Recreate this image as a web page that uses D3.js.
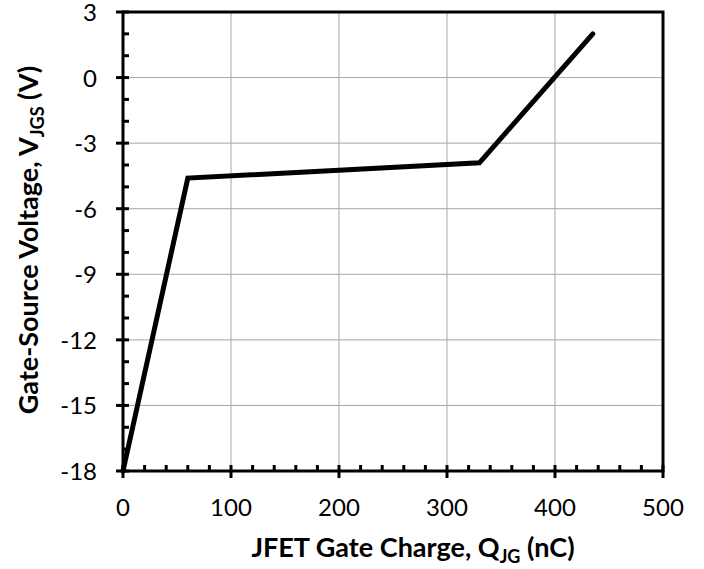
<!DOCTYPE html>
<html>
<head>
<meta charset="utf-8">
<script src="https://cdn.jsdelivr.net/npm/d3@7"></script>
<style>
  body { margin: 0; background: #fff; }
  text { font-family: Lato, "Open Sans", sans-serif; fill: #000; }
</style>
</head>
<body>
<svg id="chart" width="704" height="569"></svg>
<script>
// gate charge curve (nC, V)
let chargeNC = [0, 60, 330, 435];
let voltageV = [-18, -4.6, -3.9, 2];
let xTicks = [0, 100, 200, 300, 400, 500];
let yTicks = [3, 0, -3, -6, -9, -12, -15, -18];

function drawGateChargeChart(svgId) {
  let svg = d3.select(svgId);

  let left = 123, right = 663, top = 12, bottom = 471;

  let x = d3.scaleLinear().domain([0, 500]).range([left, right]);
  let y = d3.scaleLinear().domain([-18, 3]).range([bottom, top]);

  // grid lines
  svg.append("g")
    .selectAll("line")
    .data(xTicks)
    .enter()
    .append("line")
    .attr("x1", d => x(d)).attr("x2", d => x(d))
    .attr("y1", top).attr("y2", bottom)
    .style("stroke", "#a6a6a6")
    .style("stroke-width", 1);
  svg.append("g")
    .selectAll("line")
    .data(yTicks)
    .enter()
    .append("line")
    .attr("x1", left).attr("x2", right)
    .attr("y1", d => y(d)).attr("y2", d => y(d))
    .style("stroke", "#a6a6a6")
    .style("stroke-width", 1);

  // minor ticks (inside)
  svg.append("g")
    .selectAll("line")
    .data(d3.range(0, 501, 20).filter(d => d % 100 != 0))
    .enter()
    .append("line")
    .attr("x1", d => x(d)).attr("x2", d => x(d))
    .attr("y1", bottom).attr("y2", bottom - 6)
    .style("stroke", "#000")
    .style("stroke-width", 3);
  svg.append("g")
    .selectAll("line")
    .data(d3.range(-18, 4, 1).filter(d => d % 3 != 0))
    .enter()
    .append("line")
    .attr("x1", left).attr("x2", left + 6)
    .attr("y1", d => y(d)).attr("y2", d => y(d))
    .style("stroke", "#000")
    .style("stroke-width", 3);

  // major ticks (cross)
  svg.append("g")
    .selectAll("line")
    .data(xTicks)
    .enter()
    .append("line")
    .attr("x1", d => x(d)).attr("x2", d => x(d))
    .attr("y1", bottom - 6).attr("y2", bottom + 7)
    .style("stroke", "#000")
    .style("stroke-width", 3);
  svg.append("g")
    .selectAll("line")
    .data(yTicks)
    .enter()
    .append("line")
    .attr("x1", left - 7).attr("x2", left + 6)
    .attr("y1", d => y(d)).attr("y2", d => y(d))
    .style("stroke", "#000")
    .style("stroke-width", 3);

  // frame
  svg.append("rect")
    .attr("x", left).attr("y", top)
    .attr("width", right - left).attr("height", bottom - top)
    .style("fill", "none")
    .style("stroke", "#000")
    .style("stroke-width", 3);

  // tick labels
  svg.append("g")
    .selectAll("text")
    .data(xTicks)
    .enter()
    .append("text")
    .attr("x", d => x(d))
    .attr("y", bottom + 45)
    .text(d => d)
    .style("text-anchor", "middle")
    .style("font-size", "24px");
  svg.append("g")
    .selectAll("text")
    .data(yTicks)
    .enter()
    .append("text")
    .attr("x", left - 26)
    .attr("y", d => y(d) + 9)
    .text(d => d)
    .style("text-anchor", "end")
    .style("font-size", "24px");

  // data line
  let pts = chargeNC.map((c, i) => [c, voltageV[i]]);
  svg.append("path")
    .datum(pts)
    .attr("d", d3.line().x(d => x(d[0])).y(d => y(d[1])))
    .style("fill", "none")
    .style("stroke", "#000")
    .style("stroke-width", 5)
    .style("stroke-linecap", "round")
    .style("stroke-linejoin", "miter");

  // x title
  let xt = svg.append("text")
    .attr("x", 413)
    .attr("y", 557)
    .style("text-anchor", "middle")
    .style("font-size", "27px")
    .style("font-weight", "bold");
  xt.append("tspan").text("JFET Gate Charge, Q");
  xt.append("tspan").text("JG").attr("dy", 6).style("font-size", "18px");
  xt.append("tspan").text(" (nC)").attr("dy", -6);

  // y title
  let yt = svg.append("text")
    .attr("transform", "translate(38,240) rotate(-90)")
    .style("text-anchor", "middle")
    .style("font-size", "27px")
    .style("font-weight", "bold");
  yt.append("tspan").text("Gate-Source Voltage, V");
  yt.append("tspan").text("JGS").attr("dy", 6).style("font-size", "18px");
  yt.append("tspan").text(" (V)").attr("dy", -6);
}

drawGateChargeChart("#chart");
</script>
</body>
</html>
